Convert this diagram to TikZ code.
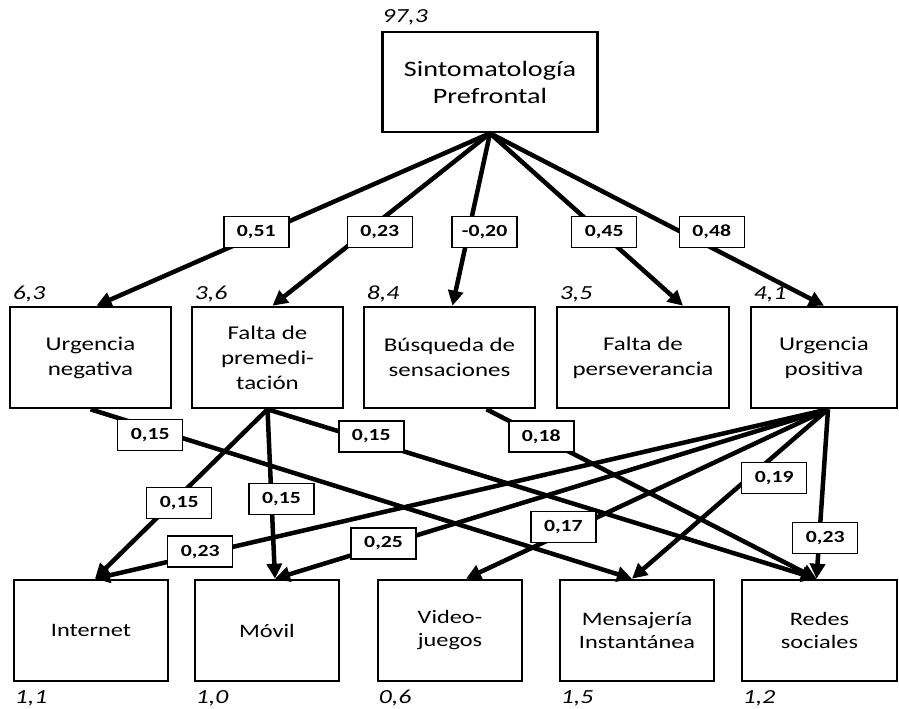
\documentclass[tikz,border=0pt]{standalone}
\usepackage{fontspec}
\setmainfont{Carlito}[FakeStretch=1.28]
\usepackage{tikz}
\usetikzlibrary{arrows.meta}

\begin{document}
\begin{tikzpicture}[x=1pt, y=-1pt, >={Triangle[length=15pt, width=15pt]},
    box/.style={draw, line width=2.6pt, align=center, inner sep=0pt, minimum height=101pt},
    midbox/.style={box, font=\fontsize{19.5}{25}\selectfont},
    lowbox/.style={box, font=\fontsize{19}{23}\selectfont},
    coef/.style={draw, fill=white, line width=1.4pt, minimum width=65pt, minimum height=31pt, inner sep=2pt, font=\fontsize{17}{20}\selectfont\bfseries},
    val/.style={inner sep=0pt, anchor=base west, font=\fontsize{20}{24}\selectfont\itshape},
    link/.style={->, line width=4.5pt}]

    \useasboundingbox (0,0) rectangle (899,709);

    \node[box, minimum width=215pt, minimum height=100pt, font=\fontsize{22}{27}\selectfont] (sint) at (490,82) {Sintomatología\\Prefrontal};

    \node[midbox, minimum width=161pt] (urgneg) at (90.5,357.5) {Urgencia\\negativa};
    \node[midbox, minimum width=151pt] (faltpre) at (267.5,357.5) {Falta de\\premedi-\\tación};
    \node[midbox, minimum width=171pt] (busq) at (449.5,357.5) {Búsqueda de\\sensaciones};
    \node[midbox, minimum width=172pt] (faltper) at (643,357.5) {Falta de\\perseverancia};
    \node[midbox, minimum width=146pt] (urgpos) at (824,357.5) {Urgencia\\positiva};

    \node[lowbox, minimum width=154pt] (inter) at (91,630.5) {Internet};
    \node[lowbox, minimum width=144pt] (movil) at (267,630.5) {Móvil};
    \node[lowbox, minimum width=144pt] (video) at (450,630.5) {Video-\\juegos};
    \node[lowbox, minimum width=154pt] (mensa) at (637,630.5) {Mensajería\\Instantánea};
    \node[lowbox, minimum width=155pt] (redes) at (819.5,630.5) {Redes\\sociales};

    \node[val] (n-sint) at ([xshift=1pt, yshift=8pt]sint.north west) {97,3};
    \node[val] (n-urgneg) at ([xshift=4pt, yshift=6pt]urgneg.north west) {6,3};
    \node[val] (n-faltpre) at ([xshift=4pt, yshift=6pt]faltpre.north west) {3,6};
    \node[val] (n-busq) at ([xshift=4pt, yshift=6pt]busq.north west) {8,4};
    \node[val] (n-faltper) at ([xshift=4pt, yshift=6pt]faltper.north west) {3,5};
    \node[val] (n-urgpos) at ([xshift=4pt, yshift=6pt]urgpos.north west) {4,1};
    \node[val] (n-inter) at ([xshift=2pt, yshift=-21pt]inter.south west) {1,1};
    \node[val] (n-movil) at ([xshift=2pt, yshift=-21pt]movil.south west) {1,0};
    \node[val] (n-video) at ([xshift=2pt, yshift=-21pt]video.south west) {0,6};
    \node[val] (n-mensa) at ([xshift=2pt, yshift=-21pt]mensa.south west) {1,5};
    \node[val] (n-redes) at ([xshift=2pt, yshift=-21pt]redes.south west) {1,2};

    \draw[link] (sint.south) -- node[coef, pos=0.571, xshift=-9pt] (c-urgneg) {0,51} ([xshift=6pt]urgneg.north);
    \draw[link] (sint.south) -- node[coef, pos=0.571, xshift=14pt] (c-faltpre) {0,23} ([xshift=5pt]faltpre.north);
    \draw[link] (sint.south) -- node[coef, pos=0.571, xshift=16pt] (c-busq) {-0,20} ([xshift=3pt]busq.north);
    \draw[link] (sint.south) -- node[coef, pos=0.571, xshift=4pt] (c-faltper) {0,45} ([xshift=40pt]faltper.north);
    \draw[link] (sint.south) -- node[coef, pos=0.571, xshift=31pt] (c-urgpos) {0,48} (urgpos.north);

    \draw[link] (urgneg.south) -- node[coef, pos=0.151, xshift=-22pt] (c-un-me) {0,15} ([xshift=-5pt]mensa.north);
    \draw[link] (faltpre.south) -- node[coef, pos=0.552, xshift=7pt] (c-fp-in) {0,15} ([xshift=4pt]inter.north);
    \draw[link] (faltpre.south) -- node[coef, pos=0.529, xshift=10pt] (c-fp-mo) {0,15} ([xshift=8pt]movil.north);
    \draw[link] (faltpre.south) -- node[coef, pos=0.16, xshift=16pt] (c-fp-re) {0,15} ([xshift=-3pt]redes.north);
    \draw[link] ([xshift=37pt]busq.south) -- node[coef, pos=0.16, xshift=2pt] (c-bu-re) {0,18} ([xshift=-3pt]redes.north);
    \draw[link] ([xshift=4pt]urgpos.south) -- node[coef, pos=0.84, xshift=-12pt] (c-up-in) {0,23} ([xshift=4pt]inter.north);
    \draw[link] ([xshift=4pt]urgpos.south) -- node[coef, pos=0.791, xshift=-7pt] (c-up-mo) {0,25} ([xshift=8pt]movil.north);
    \draw[link] ([xshift=4pt]urgpos.south) -- node[coef, pos=0.695, xshift=-13pt] (c-up-vi) {0,17} ([xshift=16pt]video.north);
    \draw[link] ([xshift=4pt]urgpos.south) -- node[coef, pos=0.407, xshift=26pt] (c-up-me) {0,19} ([xshift=-5pt]mensa.north);
    \draw[link] ([xshift=4pt]urgpos.south) -- node[coef, pos=0.759, xshift=6pt] (c-up-re) {0,23} ([xshift=-3pt]redes.north);
\end{tikzpicture}
\end{document}
